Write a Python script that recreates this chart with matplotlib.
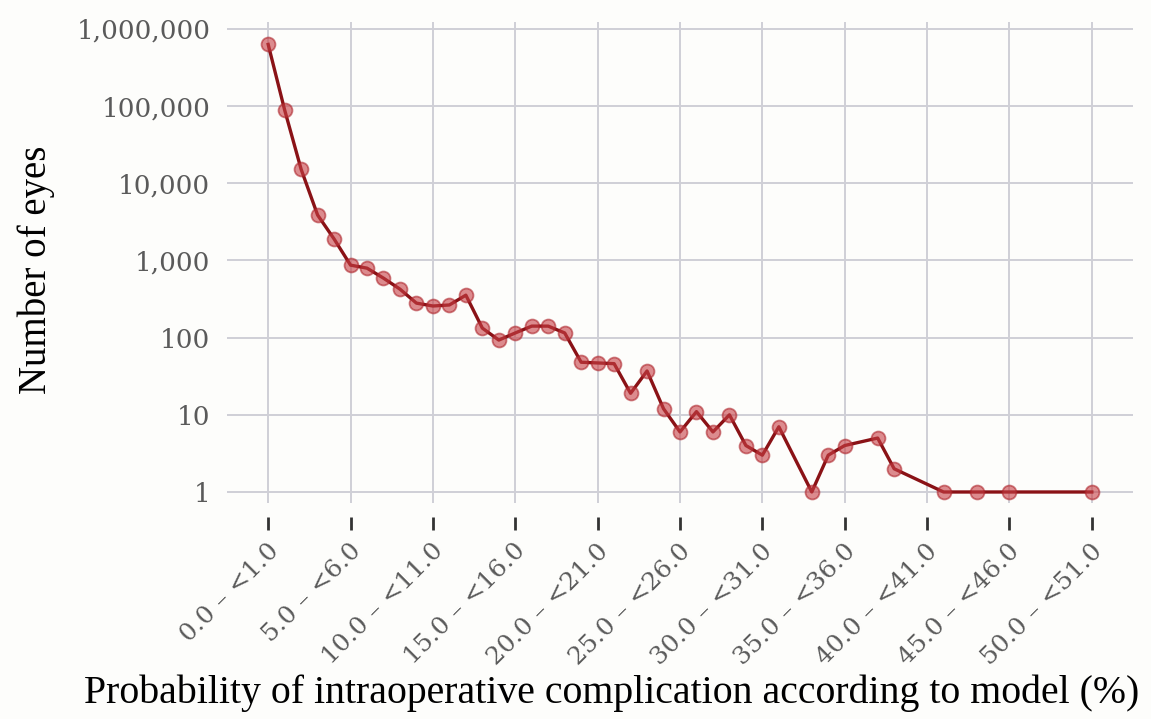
import numpy as np
import matplotlib
matplotlib.use("Agg")
import matplotlib.pyplot as plt
from matplotlib.ticker import FixedLocator, FuncFormatter
from matplotlib.transforms import ScaledTranslation

# category index (lower bound of the % bin) and number of eyes
bins = [0, 1, 2, 3, 4, 5, 6, 7, 8, 9, 10, 11, 12, 13, 14, 15, 16, 17, 18, 19,
        20, 21, 22, 23, 24, 25, 26, 27, 28, 29, 30, 31, 33, 34, 35, 37, 38,
        41, 43, 45, 50]
eyes = [630000, 89000, 15200, 3880, 1900, 870, 795, 590, 425, 280, 257, 265,
        355, 133, 93, 115, 141, 141, 115, 48, 47, 46, 19, 37, 12, 6, 11, 6,
        10, 4, 3, 7, 1, 3, 4, 5, 2, 1, 1, 1, 1]

tick_bins = [0, 5, 10, 15, 20, 25, 30, 35, 40, 45, 50]
tick_labels = [f"{b:.1f} \u2013 <{b + 1:.1f}" for b in tick_bins]
y_ticks = [1, 10, 100, 1000, 10000, 100000, 1000000]

plt.rcParams['font.family'] = ['Liberation Serif', 'DejaVu Serif']

fig = plt.figure(figsize=(11.51, 7.19), dpi=100, facecolor="#fdfdfb")
ax = fig.add_axes([227 / 1151, 1 - 503 / 719, (1133 - 227) / 1151, (503 - 22) / 719])
ax.set_facecolor("#fdfdfb")

# spine position first, it resets the ticks
for s in ax.spines.values():
    s.set_visible(False)
ax.spines["bottom"].set_position(("outward", 10))

ax.plot(bins, eyes, color="#8a1216", lw=2.4, zorder=3)
ax.plot(bins, eyes, ls="none", marker="o", ms=10, mfc=(0.78, 0.25, 0.27, 0.6),
        mec=(0.68, 0.14, 0.17, 0.6), mew=1.3, zorder=4)

ax.set_yscale("log")
ax.set_ylim(0.72, 1.23e6)
ax.set_xlim(-2.5, 52.5)

ax.yaxis.set_major_locator(FixedLocator(y_ticks))
ax.yaxis.set_minor_locator(FixedLocator([]))
ax.yaxis.set_major_formatter(FuncFormatter(lambda v, p: f"{int(round(v)):,}"))
ax.set_xticks(tick_bins)
ax.set_xticklabels(tick_labels, rotation=45, ha="right", va="center",
                   rotation_mode="anchor")

ax.grid(True, color="#cfcfd6", lw=1.4)
ax.set_axisbelow(True)
ax.tick_params(axis="y", length=0, pad=12, labelsize=19, labelcolor="#5a5a5a")
ax.tick_params(axis="x", length=9, width=2, color="#333333", pad=13,
               labelsize=18, labelcolor="#5a5a5a")
shift = ScaledTranslation(7 / 100, 0, fig.dpi_scale_trans)
for lab in ax.get_xticklabels():
    lab.set_family("DejaVu Serif")
    lab.set_transform(lab.get_transform() + shift)
for lab in ax.get_yticklabels():
    lab.set_family("DejaVu Serif")

ax.set_ylabel("Number of eyes", fontsize=28)
ax.yaxis.set_label_coords(-0.19, 0.484)
fig.text(612 / 1151, 1 - 693 / 719,
         "Probability of intraoperative complication according to model (%)",
         fontsize=28.6, ha="center", va="center")

fig.savefig("out.png", dpi=100, facecolor=fig.get_facecolor())
